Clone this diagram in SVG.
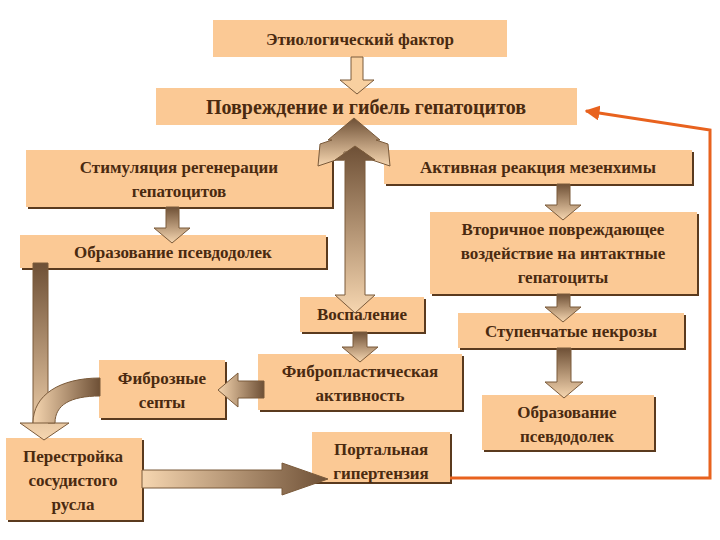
<svg xmlns="http://www.w3.org/2000/svg" width="720" height="540" viewBox="0 0 720 540">
<defs>
<linearGradient id="gv" x1="0" y1="0" x2="0" y2="1"><stop offset="0" stop-color="#6e5036"/><stop offset="1" stop-color="#f6d6b0"/></linearGradient>
<linearGradient id="gh" x1="1" y1="0" x2="0" y2="0"><stop offset="0" stop-color="#6e5036"/><stop offset="1" stop-color="#f6d6b0"/></linearGradient>
<marker id="oa" viewBox="0 0 10 10" refX="9" refY="5" markerWidth="5" markerHeight="5" orient="auto"><path d="M0,0 L10,5 L0,10 Z" fill="#e8621e"/></marker>
<style>
.b{fill:#fbc995}
.s{fill:#5a3a1e}
.t{font-family:"Liberation Serif","Times New Roman","DejaVu Serif",serif;font-weight:bold;font-size:17px;fill:#4a2a10;text-anchor:middle}
.a{stroke:#7a5a3a;stroke-width:1}
</style>
</defs>
<g id="n1"><rect class="b" x="213" y="20" width="294" height="37"/><text class="t" x="360" y="45">Этиологический фактор</text></g>
<g id="n2"><rect class="b" x="156" y="88" width="421" height="37"/><text class="t" x="366" y="114" style="font-size:20px">Повреждение и гибель гепатоцитов</text></g>
<g id="n3"><rect class="s" x="28" y="152" width="306" height="57"/><rect class="b" x="26" y="150" width="306" height="57"/><text class="t" x="179" y="173">Стимуляция регенерации</text><text class="t" x="179" y="197">гепатоцитов</text></g>
<g id="n4"><rect class="s" x="386" y="152" width="308" height="34"/><rect class="b" x="384" y="150" width="308" height="34"/><text class="t" x="538" y="173">Активная реакция мезенхимы</text></g>
<g id="n5"><rect class="s" x="432" y="214" width="267" height="82"/><rect class="b" x="430" y="212" width="267" height="82"/><text class="t" x="563" y="235">Вторичное повреждающее</text><text class="t" x="563" y="259">воздействие на интактные</text><text class="t" x="563" y="283">гепатоциты</text></g>
<g id="n6"><rect class="s" x="22" y="237" width="306" height="33"/><rect class="b" x="20" y="235" width="306" height="33"/><text class="t" x="173" y="258">Образование псевдодолек</text></g>
<g id="n7"><rect class="s" x="302" y="299" width="124" height="35"/><rect class="b" x="300" y="297" width="124" height="35"/><text class="t" x="362" y="320">Воспаление</text></g>
<g id="n8"><rect class="s" x="460" y="315" width="226" height="35"/><rect class="b" x="458" y="313" width="226" height="35"/><text class="t" x="571" y="337">Ступенчатые некрозы</text></g>
<g id="n9"><rect class="s" x="101" y="362" width="126" height="58"/><rect class="b" x="99" y="360" width="126" height="58"/><text class="t" x="162" y="384">Фиброзные</text><text class="t" x="162" y="408">септы</text></g>
<g id="n10"><rect class="s" x="260" y="356" width="204" height="56"/><rect class="b" x="258" y="354" width="204" height="56"/><text class="t" x="360" y="377">Фибропластическая</text><text class="t" x="360" y="401">активность</text></g>
<g id="n11"><rect class="s" x="484" y="397" width="172" height="55"/><rect class="b" x="482" y="395" width="172" height="55"/><text class="t" x="567" y="418">Образование</text><text class="t" x="567" y="442">псевдодолек</text></g>
<g id="n12"><rect class="s" x="8" y="440" width="136" height="82"/><rect class="b" x="6" y="438" width="136" height="82"/><text class="t" x="73" y="462">Перестройка</text><text class="t" x="73" y="486">сосудистого</text><text class="t" x="73" y="510">русла</text></g>
<g id="n13"><rect class="s" x="314" y="434" width="138" height="50"/><rect class="b" x="312" y="432" width="138" height="50"/><text class="t" x="381" y="455">Портальная</text><text class="t" x="381" y="479">гипертензия</text></g>
<g id="connectors">
<polygon class="a" fill="#f8d0a0" points="351,57 363,57 363,80 374,80 357,94 340,80 351,80"/>
<polygon class="a" fill="url(#gv)" points="166,207 179,207 179,228 190,228 172,243 154,228 166,228"/>
<polygon class="a" fill="url(#gv)" points="557,184 570,184 570,205 581,205 563,220 545,205 557,205"/>
<polygon class="a" fill="url(#gv)" points="557,294 570,294 570,307 581,307 563,322 545,307 557,307"/>
<polygon class="a" fill="url(#gv)" points="557,348 571,348 571,382 583,382 564,398 545,382 557,382"/>
<polygon class="a" fill="url(#gv)" points="353,332 367,332 367,347 378,347 360,362 342,347 353,347"/>
<polygon class="a" fill="url(#gh)" points="264,381 264,398 238,398 238,407 218,390 238,373 238,381"/>
<polygon class="a" fill="url(#gv)" points="33,263 48,263 48,423 69,423 44,440 20,423 33,423"/>
<path class="a" fill="url(#gh)" d="M100,378 L100,396 C70,396 55,405 55,423 L33,423 C33,395 60,378 100,378 Z"/>
<polygon class="a" fill="url(#gh)" points="142,470 282,470 282,463 328,479 282,495 282,488 142,488"/>
<polygon class="a" fill="url(#gv)" points="354,118 380,140 376,140 388,144 390,166 372,160 364,160 364,152 344,152 344,160 336,160 318,166 320,144 332,140 328,140"/>
<polygon class="a" fill="url(#gv)" points="345,160 345,295 335,295 355,313 375,295 365,295 365,160 375,160 355,146 335,160"/>
<polyline points="450,478 710,478 710,130 586,111" fill="none" stroke="#e8621e" stroke-width="3" marker-end="url(#oa)"/>
</g>
</svg>
